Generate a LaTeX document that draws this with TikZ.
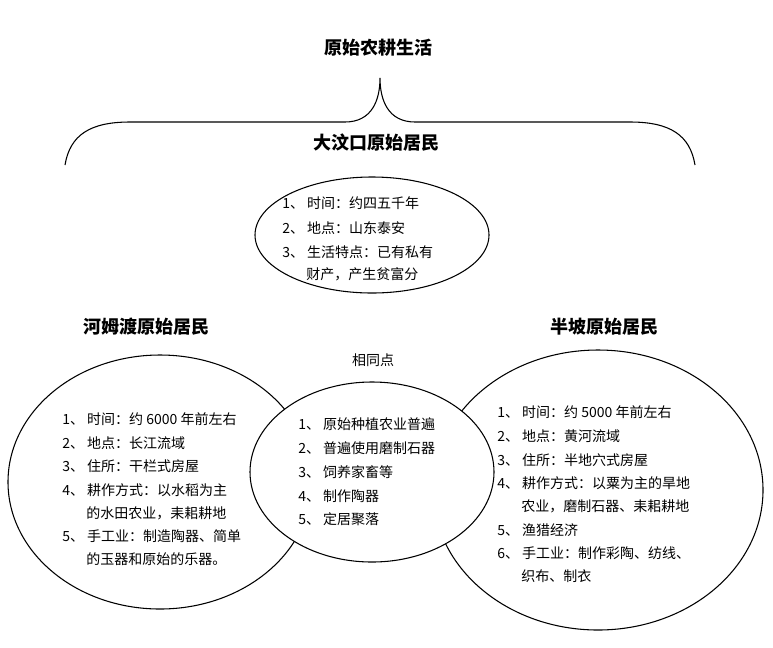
\documentclass[tikz,border=0pt]{standalone}
\usepackage{fontspec}
\setmainfont{Noto Sans CJK SC}
\begin{document}
\begin{tikzpicture}[x=0.75pt,y=-0.75pt,
  hd/.style={font=\fontsize{13.5}{16}\selectfont\bfseries},
  tx/.style={font=\fontsize{10.5}{13}\selectfont,anchor=west,inner sep=0pt},
  shp/.style={draw,line width=0.8pt}]
\useasboundingbox (0,0) rectangle (773,647);
\node[hd] (title) at (378,48) {原始农耕生活};
\draw[shp] (65,165) .. controls (70,135) and (90,122) .. (130,122) -- (345,122) .. controls (372,122) and (380,100) .. (380,78)
  .. controls (380,100) and (388,122) .. (415,122) -- (630,122) .. controls (670,122) and (690,135) .. (695,165);
\node[hd] (dwk) at (376,143) {大汶口原始居民};
\draw[shp] (372,235) ellipse [x radius=117, y radius=58];
\node[tx] (d1) at (282,203) {1、 时间：约四五千年};
\node[tx] (d2) at (282,228) {2、 地点：山东泰安};
\node[tx] (d3) at (282,252) {3、 生活特点：已有私有};
\node[tx] (d4) at (306,274) {财产，产生贫富分};
\node[hd] (hmd) at (146,327) {河姆渡原始居民};
\node[hd] (bp) at (604,327) {半坡原始居民};
\node[tx,anchor=center] (same) at (373,360) {相同点};
\draw[shp] (160,482) ellipse [x radius=152, y radius=127];
\draw[shp] (598,490) ellipse [x radius=165, y radius=140];
\draw[shp,fill=white] (372,472) ellipse [x radius=122, y radius=90];
\node[tx] (h1) at (62,419) {1、 时间：约 6000 年前左右};
\node[tx] (h2) at (62,443) {2、 地点：长江流域};
\node[tx] (h3) at (62,466) {3、 住所：干栏式房屋};
\node[tx] (h4) at (62,490) {4、 耕作方式：以水稻为主};
\node[tx] (h5) at (86,513) {的水田农业，耒耜耕地};
\node[tx] (h6) at (62,536) {5、 手工业：制造陶器、简单};
\node[tx] (h7) at (86,559) {的玉器和原始的乐器。};
\node[tx] (m1) at (298,424) {1、 原始种植农业普遍};
\node[tx] (m2) at (298,448) {2、 普遍使用磨制石器};
\node[tx] (m3) at (298,472) {3、 饲养家畜等};
\node[tx] (m4) at (298,496) {4、 制作陶器};
\node[tx] (m5) at (298,519) {5、 定居聚落};
\node[tx] (b1) at (497,412) {1、 时间：约 5000 年前左右};
\node[tx] (b2) at (497,436) {2、 地点：黄河流域};
\node[tx] (b3) at (497,460) {3、 住所：半地穴式房屋};
\node[tx] (b4) at (497,483) {4、 耕作方式：以粟为主的旱地};
\node[tx] (b5) at (521,506) {农业，磨制石器、耒耜耕地};
\node[tx] (b6) at (497,530) {5、 渔猎经济};
\node[tx] (b7) at (497,553) {6、 手工业：制作彩陶、纺线、};
\node[tx] (b8) at (521,576) {织布、制衣};
\end{tikzpicture}
\end{document}
